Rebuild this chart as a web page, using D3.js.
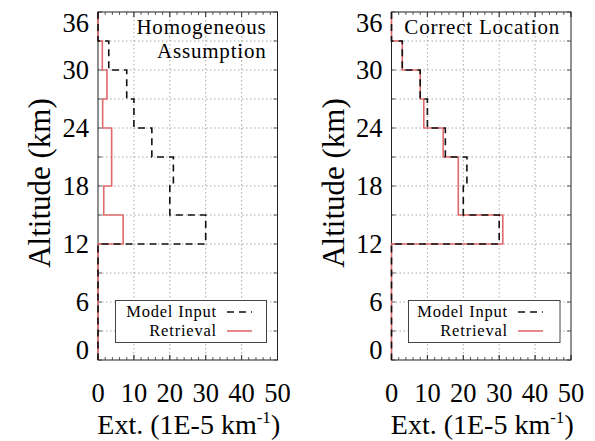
<!DOCTYPE html>
<html><head><meta charset="utf-8">
<script src="https://cdn.jsdelivr.net/npm/d3@7"></script>
<style>
html,body{margin:0;padding:0;background:#fff;}
svg{display:block;}
</style></head>
<body>
<svg id="chart" width="595" height="441" font-family="'Liberation Serif', 'DejaVu Serif', 'Times New Roman', serif"></svg>
<script>
// ---- data ----
const layerEdges = [33, 30, 27, 24, 21, 18, 15, 12];       // km, layer boundaries (top -> bottom)
const modelInput = [3, 8, 10, 15, 21, 20, 30];              // 1E-5 km^-1, per layer
const retrievalHomogeneous = [1.2, 2.5, 1.3, 3.8, 3.8, 1.6, 7.0];
const retrievalCorrect = [3, 8, 9, 14.4, 18.6, 18.6, 31];
const yTicks = [0, 6, 12, 18, 24, 30, 36];
const xTicks = [0, 10, 20, 30, 40, 50];
const panelTitles = [["Homogeneous", "Assumption"], ["Correct Location"]];
const seriesNames = ["Model Input", "Retrieval"];

const svg = d3.select("#chart");
const RED = "#e0696b";

function profile(vals) {
  const pts = [[0, 36], [0, layerEdges[0]]];
  vals.forEach((v, i) => { pts.push([v, layerEdges[i]]); pts.push([v, layerEdges[i + 1]]); });
  pts.push([0, layerEdges[layerEdges.length - 1]]);
  pts.push([0, 0]);
  return pts;
}

function panel(x0, x1, retrieval, title, legendBox) {
  const top = 12, bot = 360;
  const x = d3.scaleLinear().domain([0, 50]).range([x0, x1]);
  const y = d3.scaleLinear().domain([0, 36]).range([bot, top]);
  const g = svg.append("g");

  // grid
  g.append("g").selectAll("line").data(d3.range(3, 36, 3)).join("line")
    .attr("x1", x0).attr("x2", x1).attr("y1", d => y(d)).attr("y2", d => y(d))
    .attr("stroke", "#a8a8a8").attr("stroke-width", 1).attr("stroke-dasharray", "1.5,2.5");
  g.append("g").selectAll("line").data([10, 20, 30, 40]).join("line")
    .attr("y1", top).attr("y2", bot).attr("x1", d => x(d)).attr("x2", d => x(d))
    .attr("stroke", "#a8a8a8").attr("stroke-width", 1).attr("stroke-dasharray", "1.5,2.5");

  // inward ticks: top & bottom minor every 2, major every 10
  const xt = d3.range(0, 51, 2).concat(xTicks);
  g.append("g").selectAll("line").data(xt).join("line")
    .attr("x1", d => x(d)).attr("x2", d => x(d))
    .attr("y1", bot).attr("y2", d => bot - (d % 10 === 0 ? 5 : 3))
    .attr("stroke", "#333").attr("stroke-width", 0.8);
  g.append("g").selectAll("line").data(xt).join("line")
    .attr("x1", d => x(d)).attr("x2", d => x(d))
    .attr("y1", top).attr("y2", d => top + (d % 10 === 0 ? 5 : 3))
    .attr("stroke", "#333").attr("stroke-width", 0.8);
  const yt = d3.range(0, 37, 3);
  g.append("g").selectAll("line").data(yt).join("line")
    .attr("x1", x1).attr("x2", x1 - 4).attr("y1", d => y(d)).attr("y2", d => y(d))
    .attr("stroke", "#333").attr("stroke-width", 0.8);
  g.append("g").selectAll("line").data(yt).join("line")
    .attr("x1", x0).attr("x2", x0 + 4).attr("y1", d => y(d)).attr("y2", d => y(d))
    .attr("stroke", "#333").attr("stroke-width", 0.8);

  // frame
  g.append("rect").attr("x", x0).attr("y", top).attr("width", x1 - x0).attr("height", bot - top)
    .attr("fill", "none").attr("stroke", "#222").attr("stroke-width", 1);

  // data
  const line = d3.line().x(d => x(d[0])).y(d => y(d[1]));
  g.append("path").attr("d", line(profile(retrieval))).attr("fill", "none")
    .attr("stroke", RED).attr("stroke-width", 1.6);
  g.append("path").attr("d", line(profile(modelInput))).attr("fill", "none")
    .attr("stroke", "#111").attr("stroke-width", 1.6).attr("stroke-dasharray", "7,5");

  // tick labels
  g.append("g").selectAll("text").data(yTicks).join("text")
    .attr("x", x0 - 9).attr("y", d => Math.min(Math.max(y(d), top + 10.5), bot - 10))
    .attr("dy", "0.34em").attr("text-anchor", "end").attr("font-size", 26.5).text(d => d);
  g.append("g").selectAll("text").data(xTicks).join("text")
    .attr("x", d => x(d)).attr("y", 402).attr("text-anchor", "middle")
    .attr("font-size", 26.5).text(d => d);

  // axis titles
  const xt2 = g.append("text").attr("x", (x0 + x1) / 2 + 1).attr("y", 434)
    .attr("text-anchor", "middle").attr("font-size", 28);
  xt2.append("tspan").text("Ext. (1E-5 km");
  xt2.append("tspan").attr("dy", -11).attr("font-size", 17).text("-1");
  xt2.append("tspan").attr("dy", 11).text(")");
  g.append("text").attr("transform", `translate(${x0 - 48},183) rotate(-90)`)
    .attr("text-anchor", "middle").attr("font-size", 31).text("Altitude (km)");

  // panel title
  title.forEach((t, i) => {
    g.append("text").attr("x", x1 - 11).attr("y", 34 + i * 24).attr("text-anchor", "end")
      .attr("font-size", 21).attr("letter-spacing", 0.8).text(t);
  });

  // legend
  const [lx0, ly0, lx1, ly1, tx] = legendBox;
  g.append("rect").attr("x", lx0).attr("y", ly0).attr("width", lx1 - lx0).attr("height", ly1 - ly0)
    .attr("fill", "#fff").attr("stroke", "#444").attr("stroke-width", 1);
  seriesNames.forEach((n, i) => {
    const yy = ly0 + 16.5 + i * 19;
    g.append("text").attr("x", tx).attr("y", yy).attr("text-anchor", "end")
      .attr("font-size", 16.5).attr("letter-spacing", 0.8).text(n);
    g.append("line").attr("x1", tx + 10).attr("x2", tx + 35).attr("y1", yy - 5).attr("y2", yy - 5)
      .attr("stroke", i === 0 ? "#111" : RED).attr("stroke-width", 1.6)
      .attr("stroke-dasharray", i === 0 ? "7,5" : null);
  });
}

panel(98, 277.5, retrievalHomogeneous, panelTitles[0], [115.5, 300.5, 266.5, 342.5, 217]);
panel(391.5, 571, retrievalCorrect, panelTitles[1], [408.5, 300.5, 560, 342.5, 508]);
</script>
</body></html>
